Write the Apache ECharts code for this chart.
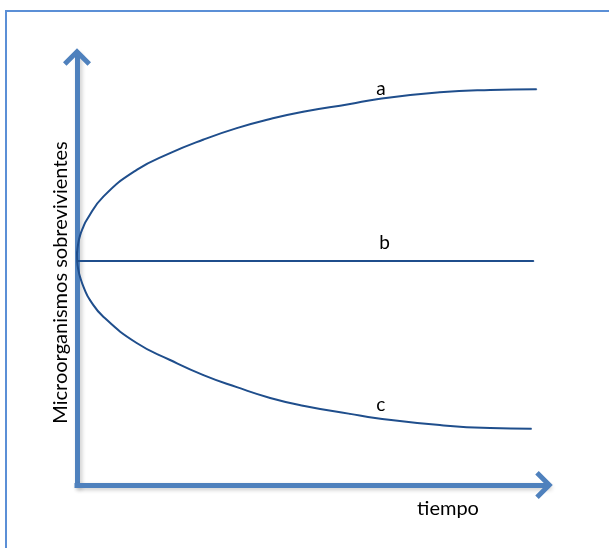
<!DOCTYPE html>
<html>
<head>
<meta charset="utf-8">
<title>Microorganismos sobrevivientes</title>
<script src="https://cdn.jsdelivr.net/npm/echarts@6/dist/echarts.min.js"></script>
<style>
  html, body { margin: 0; padding: 0; background: #fff; }
  #chart { width: 609px; height: 548px; }
</style>
</head>
<body>
<div id="chart"></div>
<script>
// curvas: [tiempo, sobrevivientes], escala 0-100
const curveA = [
  [0, 53.6], [0.21, 55.7], [0.62, 57.8], [1.23, 59.6], [2.06, 61.5],
  [5.6, 66.9], [12.7, 73.1], [19.8, 77.0], [26.8, 80.1], [34.0, 82.8],
  [41.1, 84.9], [48.1, 86.6], [58.1, 88.4], [63.8, 89.5], [77.2, 91.1],
  [87.9, 91.65], [97.8, 91.8]
];
const curveB = [[0, 52.0], [64.6, 52.0], [97.2, 52.0]];
const curveC = [
  [0, 54.1], [0.06, 51.7], [0.26, 50.1], [0.64, 48.3], [1.49, 45.7],
  [2.77, 42.9], [5.6, 39.05], [12.7, 32.95], [19.8, 29.0], [26.9, 25.5],
  [34.0, 22.7], [41.1, 20.2], [48.1, 18.4], [58.1, 16.5], [63.8, 15.5],
  [77.2, 13.9], [87.9, 13.2], [96.7, 13.06]
];
const curveNames = ["a", "b", "c"];
const labelIndex = [13, 1, 14]; // punto donde va la letra de cada curva
const labelGap = [0, 8, 3];

const axisColor = "#4f81bd";
const lineColor = "#1f4e8c";
// punta de flecha abierta
const chevron = "path://M14,0 L28,14 L24.5,17.5 L14,7 L3.5,17.5 L0,14 Z";

const axisLine = {
  show: true,
  symbol: ["none", chevron],
  symbolSize: [28, 17.5],
  symbolOffset: [0, -3],
  lineStyle: {
    color: axisColor,
    width: 5,
    cap: "square",
    shadowColor: "rgba(0,0,0,0.2)",
    shadowBlur: 4,
    shadowOffsetX: 2,
    shadowOffsetY: 2
  }
};

function makeSeries(data, i) {
  return {
    name: curveNames[i],
    type: "line",
    data: data.map((p, k) => k === labelIndex[i]
      ? { value: p, label: { show: true, formatter: curveNames[i], distance: labelGap[i] } }
      : p),
    smooth: 0.5,
    showSymbol: true,
    symbol: "circle",
    symbolSize: 1,
    itemStyle: { color: lineColor },
    lineStyle: { color: lineColor, width: 2 },
    label: {
      show: false,
      position: "top",
      offset: [4, 0],
      color: "#000",
      fontSize: 19,
      fontFamily: "Lato"
    },
    silent: true,
    z: 3
  };
}

const chart = echarts.init(document.getElementById("chart"));
chart.setOption({
  animation: false,
  backgroundColor: "#fff",
  grid: { left: 77, right: 62, top: 54, bottom: 63 },
  xAxis: {
    type: "value",
    min: 0,
    max: 100,
    name: "tiempo",
    nameLocation: "middle",
    nameGap: 14,
    nameTextStyle: { color: "#000", fontSize: 20, fontFamily: "Lato", padding: [0, 0, 0, 272] },
    axisLine: axisLine,
    axisTick: { show: false },
    axisLabel: { show: false },
    splitLine: { show: false }
  },
  yAxis: {
    type: "value",
    min: 0,
    max: 100,
    name: "Microorganismos sobrevivientes",
    nameLocation: "middle",
    nameRotate: 90,
    nameGap: 6,
    nameTextStyle: { color: "#000", fontSize: 20, fontFamily: "Lato", padding: [0, 26, 0, 0] },
    axisLine: axisLine,
    axisTick: { show: false },
    axisLabel: { show: false },
    splitLine: { show: false }
  },
  graphic: [{
    type: "rect",
    silent: true,
    shape: { x: 6, y: 11, width: 700, height: 700 },
    style: { fill: "none", stroke: "#5b8fd6", lineWidth: 2 }
  }],
  series: [curveA, curveB, curveC].map(makeSeries)
});
</script>
</body>
</html>
